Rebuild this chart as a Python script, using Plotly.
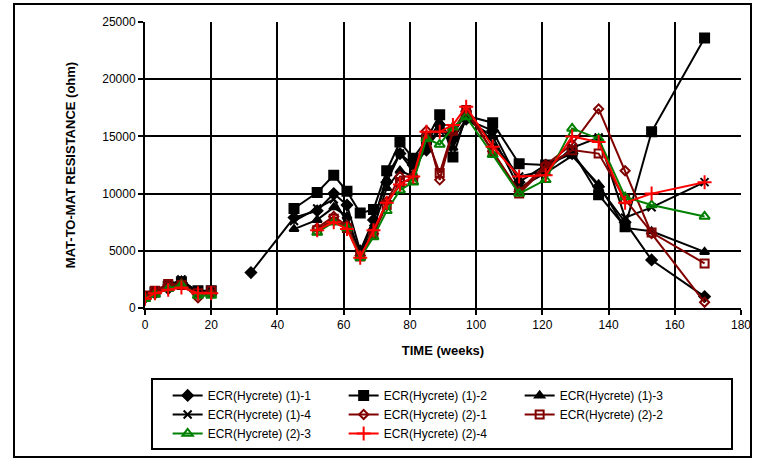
import plotly.graph_objects as go

weeks = [0, 3, 7, 11, 16, 20, 24, 32, 45, 52, 57, 61, 65, 69, 73, 77, 81, 85, 89, 93, 97, 105, 113, 121, 129, 137, 145, 153, 169]
N = None
s1_1 = [900, 1300, 1700, 2200, 1300, 1300, N, 3100, 7900, 8500, 10000, 9000, 5000, 7700, 11000, 13500, 12500, 13800, 16000, 14800, 16500, 15500, 11000, 12500, 13500, 10600, 7500, 4200, 1000]
s1_2 = [1000, 1400, 1900, 2300, 1500, 1500, N, N, 8700, 10100, 11600, 10200, 8300, 8600, 12000, 14500, 13100, 14700, 16900, 13200, 16800, 16200, 12600, 12500, 13700, 9900, 7100, 15400, 23600]
s1_3 = [900, 1300, 1800, 2400, 1400, 1400, N, N, 6900, 7700, 8800, 8000, 4700, 7000, 10500, 12000, 11500, 14500, 16200, 14000, 16500, 15000, 10500, 11800, 13300, 10800, 7000, 6700, 4900]
s1_4 = [1000, 1400, 1900, 2500, 1300, 1400, N, N, 7600, 8700, 9500, 7500, 4900, 7500, 11500, 13500, 12000, 14000, 15500, 15200, 17000, 14500, 11500, 12000, 14000, 14900, 7900, 8800, 11000]
s2_1 = [900, 1400, 2000, 2100, 900, 1300, N, N, N, 7000, 8000, 7200, 4600, 6500, 9300, 11500, 11500, 15500, 11200, 15500, 17200, 13700, 10200, 12500, 14300, 17400, 12000, 6500, 500]
s2_2 = [1100, 1500, 2100, 2000, 1300, 1500, N, N, N, 6800, 7800, 7000, 4500, 6500, 9000, 11000, 11200, 15000, 11800, 15500, 17300, 13700, 10000, 12300, 13800, 13500, 9500, 6600, 3900]
s2_3 = [800, 1200, 1700, 2000, 1100, 1100, N, N, N, 6600, 7500, 7000, 4400, 6200, 8500, 10300, 11000, 14800, 14300, 15800, 16700, 13400, 10000, 11200, 15700, 14800, 9700, 9000, 8000]
s2_4 = [800, 1300, 1600, 1800, 1300, 1300, N, N, N, 6800, 7500, 6900, 4400, 6800, 9200, 10800, 11500, 15400, 15400, 16000, 17600, 14100, 11500, 11600, 15000, 14500, 9200, 10000, 11000]

names = ["ECR(Hycrete) (1)-1", "ECR(Hycrete) (1)-2", "ECR(Hycrete) (1)-3", "ECR(Hycrete) (1)-4",
         "ECR(Hycrete) (2)-1", "ECR(Hycrete) (2)-2", "ECR(Hycrete) (2)-3", "ECR(Hycrete) (2)-4"]
series = [s1_1, s1_2, s1_3, s1_4, s2_1, s2_2, s2_3, s2_4]

styles = [
    ("black", "diamond", 8),
    ("black", "square", 9),
    ("black", "triangle-up", 8),
    ("black", "x-thin", 8),
    ("#800000", "diamond-open", 7),
    ("#800000", "square-open", 8),
    ("#008000", "triangle-up-open", 9),
    ("#FF0000", "cross-thin", 10),
]

FONT = "Liberation Sans, Arial, sans-serif"
fig = go.Figure()
for name, vals, (col, sym, sz) in zip(names, series, styles):
    fig.add_trace(go.Scatter(
        x=weeks, y=vals, name=name, mode="lines+markers",
        connectgaps=False,
        line=dict(color=col, width=2),
        marker=dict(symbol=sym, size=sz, color=col, line=dict(color=col, width=2)),
    ))

fig.update_layout(
    width=759, height=461,
    margin=dict(l=145, r=18, t=22, b=153),
    paper_bgcolor="white", plot_bgcolor="white",
    font=dict(family=FONT, size=12, color="black"),
    showlegend=True,
    legend=dict(orientation="h", x=0.038, y=-0.255, xanchor="left", yanchor="top",
                entrywidth=131, entrywidthmode="pixels",
                font=dict(family=FONT, size=12, color="black"),
                bgcolor="rgba(0,0,0,0)", tracegroupgap=0),
    xaxis=dict(range=[0, 180], dtick=20, tick0=0, showgrid=True, gridcolor="black", gridwidth=2,
               showline=True, linecolor="black", linewidth=2, ticks="outside", ticklen=5,
               tickcolor="black", tickwidth=2, zeroline=False, automargin=False,
               title=dict(text="<b>TIME (weeks)</b>", font=dict(family=FONT, size=13), standoff=14)),
    yaxis=dict(range=[0, 25000], dtick=5000, tickformat="d", showgrid=True, gridcolor="black", gridwidth=2,
               showline=True, linecolor="black", linewidth=2, ticks="outside", ticklen=5,
               tickcolor="black", tickwidth=2, zeroline=False, automargin=False,
               title=dict(text="<b>MAT-TO-MAT RESISTANCE (ohm)</b>", font=dict(family=FONT, size=13), standoff=24)),
)

# outer chart border
fig.add_shape(type="rect", xref="paper", yref="paper",
              x0=(14 - 145) / 596, x1=(751 - 145) / 596,
              y0=(308 - 457) / 286, y1=(308 - 4) / 286,
              line=dict(color="black", width=2), fillcolor="rgba(0,0,0,0)", layer="below")
# legend border
fig.add_shape(type="rect", xref="paper", yref="paper",
              x0=(152 - 145) / 596, x1=(732 - 145) / 596,
              y0=(308 - 449) / 286, y1=(308 - 379) / 286,
              line=dict(color="black", width=2), fillcolor="rgba(0,0,0,0)")

fig.write_html("out.html", config={"displayModeBar": False},
               post_script="document.body.style.margin='0';document.body.style.overflow='hidden';")
